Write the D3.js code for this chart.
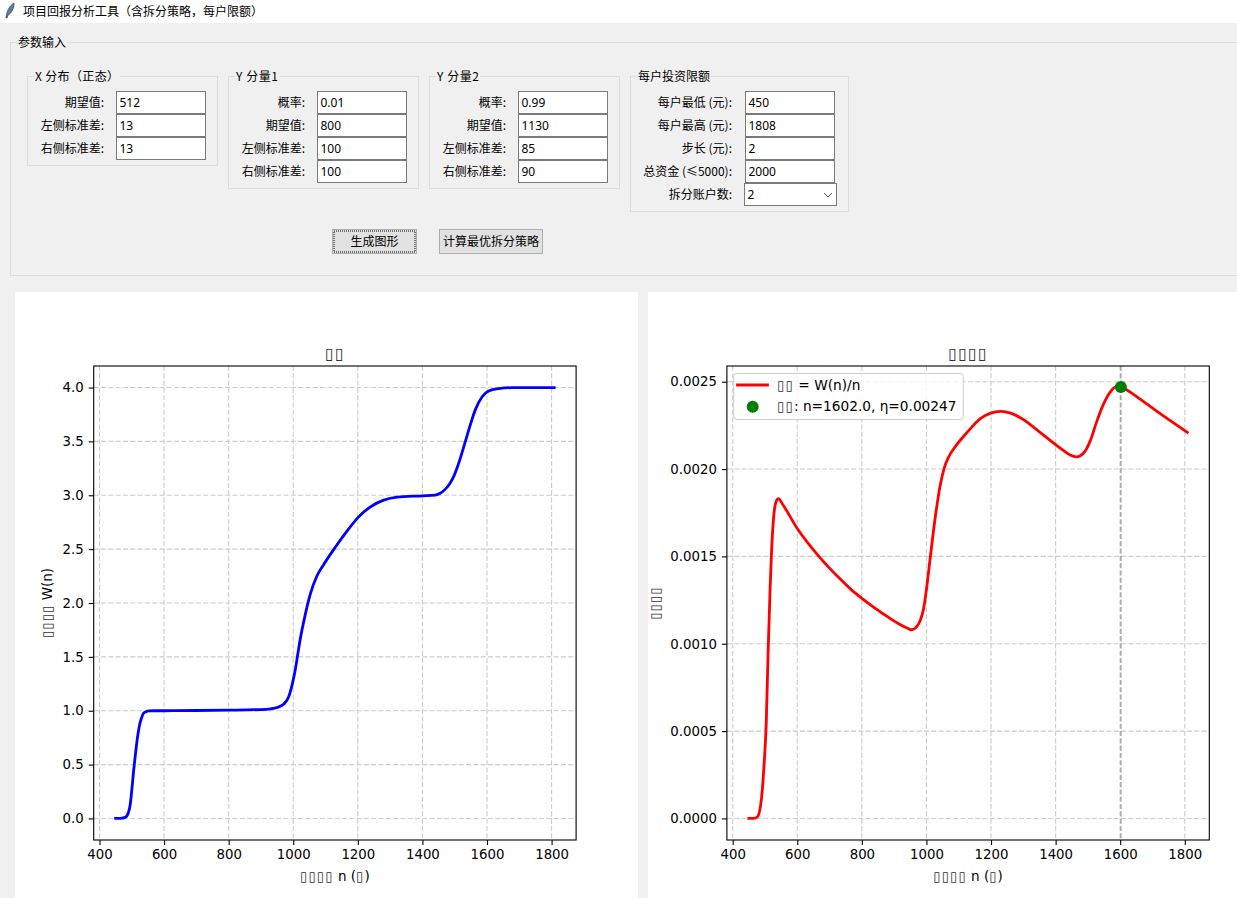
<!DOCTYPE html>
<html>
<head>
<meta charset="utf-8">
<title>项目回报分析工具</title>
<script src="https://cdn.jsdelivr.net/npm/d3@7"></script>
<style>
  html, body { margin: 0; padding: 0; background: #f0f0f0; overflow: hidden; }
  svg { display: block; }
  .ui { font-family: "Noto Sans CJK SC", "Noto Sans", sans-serif; font-size: 12px; fill: #000; }
  .plot text { font-family: "DejaVu Sans", sans-serif; fill: #000; }
</style>
</head>
<body>
<script>
// form contents
var xLabels = ['期望值:', '左侧标准差:', '右侧标准差:'];
var xFields = ['512', '13', '13'];
var y1Labels = ['概率:', '期望值:', '左侧标准差:', '右侧标准差:'];
var y1Fields = ['0.01', '800', '100', '100'];
var y2Fields = ['0.99', '1130', '85', '90'];
var limitLabels = ['每户最低 (元):', '每户最高 (元):', '步长 (元):', '总资金 (≤5000):', '拆分账户数:'];
var limitFields = ['450', '1808', '2', '2000', '2'];

// curve on the left chart
var nW = [450, 465, 480, 489, 495, 500, 505, 510, 514, 519, 524, 530, 536, 544, 552, 570, 600, 700, 800, 900, 930, 950, 970, 986, 1001, 1006, 1017, 1022, 1032, 1037, 1053, 1074, 1094, 1130, 1167, 1201, 1239, 1280, 1322, 1401, 1440, 1455, 1471, 1484, 1497, 1508, 1518, 1533, 1549, 1564, 1585, 1605, 1636, 1680, 1808];
var wValues = [0, 0.001, 0.01, 0.05, 0.125, 0.26, 0.42, 0.56, 0.665, 0.78, 0.865, 0.93, 0.975, 0.99, 0.998, 1.0, 1.0, 1.002, 1.005, 1.011, 1.018, 1.03, 1.06, 1.13, 1.30, 1.375, 1.58, 1.67, 1.82, 1.89, 2.085, 2.255, 2.356, 2.517, 2.67, 2.795, 2.893, 2.955, 2.983, 2.995, 3.002, 3.018, 3.057, 3.105, 3.175, 3.26, 3.35, 3.50, 3.66, 3.795, 3.915, 3.967, 3.99, 3.999, 4.0];

// curve on the right chart
var nEta = [450, 465, 477, 489, 497, 504, 510, 516, 520, 525, 531, 536, 542, 554, 600, 667, 733, 767, 800, 867, 918, 940, 954, 966, 980, 990, 1000, 1011, 1027, 1043, 1055, 1069, 1090, 1126, 1168, 1199, 1230, 1261, 1303, 1345, 1400, 1425, 1445, 1465, 1486, 1507, 1527, 1548, 1569, 1587, 1602, 1623, 1662, 1714, 1808];
var etaValues = [0, 0, 0.00001, 0.00011, 0.0003, 0.00055, 0.00097, 0.00132, 0.00151, 0.00168, 0.00179, 0.00182, 0.00183, 0.0018, 0.00166, 0.0015, 0.00137, 0.00131, 0.00126, 0.00117, 0.00111, 0.00109, 0.00108, 0.00109, 0.00113, 0.00119, 0.00131, 0.00148, 0.00172, 0.00191, 0.002006, 0.00207, 0.00213, 0.00221, 0.00229, 0.00232, 0.00233, 0.00232, 0.00228, 0.00222, 0.00214, 0.002105, 0.00208, 0.00207, 0.00209, 0.00216, 0.00227, 0.00237, 0.00244, 0.00247, 0.00247, 0.00245, 0.0024, 0.00233, 0.00221];

var peakN = 1602;
var peakEta = 0.00247;

var xTicks = [400, 600, 800, 1000, 1200, 1400, 1600, 1800];
var wTicks = [0, 0.5, 1, 1.5, 2, 2.5, 3, 3.5, 4];
var etaTicks = [0, 0.0005, 0.001, 0.0015, 0.002, 0.0025];

var svg = d3.select('body').append('svg').attr('width', 1237).attr('height', 898);

svg.append('rect').attr('width', 1237).attr('height', 898).attr('fill', '#f0f0f0');

// title bar
svg.append('rect').attr('width', 1237).attr('height', 23).attr('fill', '#fff');
svg.append('path')
  .attr('d', 'M6 18 C6.5 12 9 6 14 3 C14 8 12 13 8 15 L7 18 Z')
  .attr('fill', '#5f7f9f').attr('stroke', '#27384a').attr('stroke-width', 0.7);
svg.append('text').attr('class', 'ui').attr('x', 23).attr('y', 16)
  .attr('textLength', 240).text('项目回报分析工具（含拆分策略，每户限额）');

// labelled frame with a caption that cuts through its top border
function frame(x, y, w, h, caption, capX, capW) {
  svg.append('rect').attr('x', x).attr('y', y).attr('width', w).attr('height', h)
    .attr('fill', 'none').attr('stroke', '#dcdcdc');
  svg.append('rect').attr('x', capX - 1).attr('y', y - 6).attr('width', capW + 2).attr('height', 12)
    .attr('fill', '#f0f0f0');
  svg.append('text').attr('class', 'ui').attr('x', capX).attr('y', y + 4)
    .attr('textLength', capW).text(caption);
}

function fieldGroup(labels, values, labelRight, entryX) {
  labels.forEach(function(label, i) {
    var top = 91.5 + i * 23;
    svg.append('text').attr('class', 'ui').attr('x', labelRight).attr('y', top + 15)
      .attr('text-anchor', 'end').text(label);
    svg.append('rect').attr('x', entryX).attr('y', top).attr('width', 89).attr('height', 22)
      .attr('fill', '#fff').attr('stroke', '#7a7a7a');
    svg.append('text').attr('class', 'ui').attr('x', entryX + 3).attr('y', top + 15.5)
      .style('font-family', '"Noto Sans", sans-serif').text(values[i]);
  });
}

frame(10.5, 42.5, 1240, 233, '参数输入', 18, 48);
frame(27.5, 76.5, 190, 89, 'X 分布（正态）', 35, 84);
frame(228.5, 76.5, 190, 112, 'Y 分量1', 236, 42);
frame(429.5, 76.5, 190, 112, 'Y 分量2', 437, 42);
frame(630.5, 76.5, 218, 135, '每户投资限额', 638, 72);

fieldGroup(xLabels, xFields, 104, 116.5);
fieldGroup(y1Labels, y1Fields, 305, 317.5);
fieldGroup(y1Labels, y2Fields, 506, 518.5);
fieldGroup(limitLabels, limitFields, 732, 745.5);

// the split count is a combobox, wider than the entries
svg.append('rect').attr('x', 744.5).attr('y', 183.5).attr('width', 92).attr('height', 22)
  .attr('fill', '#fff').attr('stroke', '#7a7a7a');
svg.append('text').attr('class', 'ui').attr('x', 747.5).attr('y', 199)
  .style('font-family', '"Noto Sans", sans-serif').text(limitFields[4]);
svg.append('path').attr('d', 'M824 193 L828 197 L832 193').attr('fill', 'none').attr('stroke', '#555');

function button(x, w, label, focused) {
  svg.append('rect').attr('x', x).attr('y', 229.5).attr('width', w).attr('height', 24)
    .attr('fill', '#e1e1e1').attr('stroke', '#adadad');
  if (focused) {
    svg.append('rect').attr('x', x + 1.5).attr('y', 231).attr('width', w - 3).attr('height', 21)
      .attr('fill', 'none').attr('stroke', '#000').attr('stroke-dasharray', '1,1');
  }
  svg.append('text').attr('class', 'ui').attr('x', x + w / 2).attr('y', 246)
    .attr('text-anchor', 'middle').text(label);
}
button(332.5, 84, '生成图形', true);
button(439.5, 103, '计算最优拆分策略', false);

// the original figures have no CJK font, the labels come out as empty boxes
function boxes(s) {
  return s.replace(/▯+/g, function(m) {
    return '<tspan style="fill:#333;letter-spacing:0.07em">' + m + '</tspan>';
  });
}

function chart(opts) {
  var left = opts.left, right = left + 482.4, top = 366, bottom = 840;
  svg.append('rect').attr('x', opts.panelX).attr('y', 292).attr('width', opts.panelW).attr('height', 606)
    .attr('fill', '#fff');

  var g = svg.append('g').attr('class', 'plot');
  var x = d3.scaleLinear().domain([382.1, 1875.9]).range([left, right]);
  var y = d3.scaleLinear().domain(opts.yDomain).range([bottom, top]);

  // grid
  g.selectAll('.gx').data(xTicks).enter().append('line')
    .attr('x1', function(d) { return x(d); }).attr('x2', function(d) { return x(d); })
    .attr('y1', top).attr('y2', bottom);
  g.selectAll('.gy').data(opts.yTicks).enter().append('line')
    .attr('x1', left).attr('x2', right)
    .attr('y1', function(d) { return y(d); }).attr('y2', function(d) { return y(d); });
  g.selectAll('line').attr('stroke', '#cccccc').attr('stroke-width', 1.1).attr('stroke-dasharray', '5.1,2.2');

  if (opts.extra) opts.extra(g, x, y);

  var line = d3.line().curve(d3.curveMonotoneX)
    .x(function(d) { return x(d[0]); })
    .y(function(d) { return y(d[1]); });
  g.append('path').datum(d3.zip(opts.ns, opts.values))
    .attr('d', line).attr('fill', 'none').attr('stroke', opts.color)
    .attr('stroke-width', 2.8).attr('stroke-linejoin', 'round').attr('stroke-linecap', 'square');

  if (opts.marks) opts.marks(g, x, y);

  // spines and axes
  g.append('rect').attr('x', left).attr('y', top).attr('width', right - left).attr('height', bottom - top)
    .attr('fill', 'none').attr('stroke', '#000').attr('stroke-width', 1.1);

  var ax = g.append('g').attr('transform', 'translate(0,' + bottom + ')')
    .call(d3.axisBottom(x).tickValues(xTicks).tickSize(5).tickPadding(5).tickFormat(d3.format('d')));
  var ay = g.append('g').attr('transform', 'translate(' + left + ',0)')
    .call(d3.axisLeft(y).tickValues(opts.yTicks).tickSize(5).tickPadding(5).tickFormat(d3.format(opts.yFormat)));
  [ax, ay].forEach(function(a) {
    a.select('.domain').remove();
    a.selectAll('.tick line').attr('stroke', '#000').attr('stroke-width', 1.1);
    a.selectAll('text').style('font-size', '13.3px').style('font-family', '"DejaVu Sans", sans-serif').attr('fill', '#000');
  });

  g.append('text').attr('x', (left + right) / 2).attr('y', 359).attr('text-anchor', 'middle')
    .style('font-size', '16px').html(boxes(opts.title));
  g.append('text').attr('x', (left + right) / 2).attr('y', 881).attr('text-anchor', 'middle')
    .style('font-size', '13.5px').html(boxes('▯▯▯▯ n (▯)'));
  g.append('text').attr('transform', 'translate(' + opts.yLabelX + ',' + (top + bottom) / 2 + ') rotate(-90)')
    .attr('text-anchor', 'middle').style('font-size', '13.5px').html(boxes(opts.yLabel));
}

chart({
  panelX: 15, panelW: 623, left: 93.7,
  yDomain: [-0.2, 4.2], yTicks: wTicks, yFormat: '.1f',
  ns: nW, values: wValues, color: '#0000ff',
  title: '▯▯', yLabel: '▯▯▯▯ W(n)', yLabelX: 52
});

chart({
  panelX: 648, panelW: 589, left: 726.9,
  yDomain: [-0.0001235, 0.00259], yTicks: etaTicks, yFormat: '.4f',
  ns: nEta, values: etaValues, color: '#ff0000',
  title: '▯▯▯▯', yLabel: '▯▯▯▯', yLabelX: 660,
  extra: function(g, x, y) {
    g.append('line').attr('x1', x(peakN)).attr('x2', x(peakN)).attr('y1', 366).attr('y2', 840)
      .attr('stroke', '#808080').attr('stroke-opacity', 0.5).attr('stroke-width', 2).attr('stroke-dasharray', '5.1,2.2');
  },
  marks: function(g, x, y) {
    g.append('circle').attr('cx', x(peakN)).attr('cy', y(peakEta)).attr('r', 6).attr('fill', '#008000');

    // legend
    g.append('rect').attr('x', 733.7).attr('y', 373.5).attr('width', 229.6).attr('height', 46).attr('rx', 3)
      .attr('fill', '#fff').attr('fill-opacity', 0.8).attr('stroke', '#cccccc');
    g.append('line').attr('x1', 737.5).attr('x2', 767.5).attr('y1', 385).attr('y2', 385)
      .attr('stroke', '#ff0000').attr('stroke-width', 2.8).attr('stroke-linecap', 'square');
    g.append('circle').attr('cx', 752.7).attr('cy', 406.7).attr('r', 6).attr('fill', '#008000');
    g.append('text').attr('x', 777).attr('y', 390).style('font-size', '13.7px').html(boxes('▯▯ = W(n)/n'));
    g.append('text').attr('x', 777).attr('y', 411).style('font-size', '13.7px')
      .html(boxes('▯▯: n=' + peakN.toFixed(1) + ', η=' + peakEta.toFixed(5)));
  }
});
</script>
</body>
</html>
